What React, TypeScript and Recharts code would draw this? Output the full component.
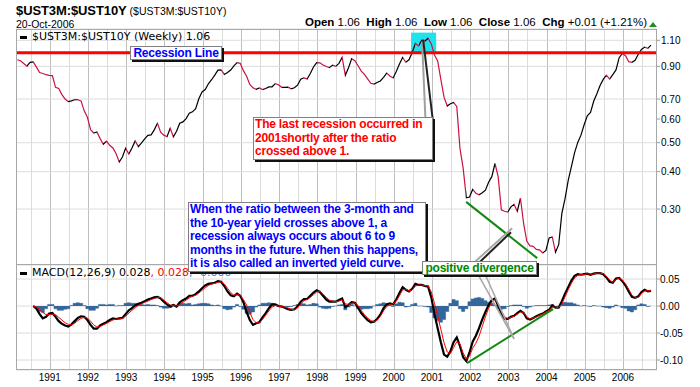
import {
  ComposedChart,
  Line,
  Area,
  XAxis,
  YAxis,
  CartesianGrid,
  ReferenceLine,
  ReferenceArea,
} from 'recharts'

// Weekly $UST3M:$UST10Y ratio, sampled monthly off the chart (Mar 1990 .. Oct 2006)
const START = 1990.15
const X_MIN = 1990.115
const X_MAX = 2006.89

const PRICE = [
  0.947, 0.94, 0.92, 0.901, 0.928, 0.931, 0.895, 0.858, 0.852, 0.844,
  0.84, 0.838, 0.766, 0.759, 0.724, 0.7, 0.686, 0.69, 0.696, 0.696,
  0.69, 0.639, 0.608, 0.553, 0.539, 0.543, 0.516, 0.494, 0.506, 0.49,
  0.48, 0.46, 0.431, 0.448, 0.479, 0.458, 0.48, 0.507, 0.485, 0.499,
  0.515, 0.529, 0.531, 0.552, 0.581, 0.542, 0.53, 0.524, 0.559, 0.523,
  0.546, 0.581, 0.587, 0.602, 0.627, 0.634, 0.65, 0.701, 0.739, 0.753,
  0.787, 0.812, 0.841, 0.874, 0.876, 0.846, 0.858, 0.875, 0.904, 0.926,
  0.921, 0.871, 0.834, 0.783, 0.763, 0.754, 0.762, 0.753, 0.759, 0.768,
  0.769, 0.788, 0.781, 0.766, 0.766, 0.767, 0.757, 0.763, 0.779, 0.815,
  0.824, 0.817, 0.852, 0.896, 0.926, 0.925, 0.909, 0.899, 0.891, 0.909,
  0.9, 0.921, 0.965, 0.84, 0.891, 0.955, 0.94, 0.904, 0.868, 0.846,
  0.817, 0.79, 0.785, 0.795, 0.804, 0.827, 0.855, 0.836, 0.823, 0.865,
  0.917, 0.964, 0.929, 0.947, 1.002, 1.073, 1.053, 1.1, 1.094, 1.118,
  1.07, 0.983, 0.938, 0.814, 0.71, 0.663, 0.675, 0.682, 0.661, 0.479,
  0.411, 0.327, 0.329, 0.349, 0.339, 0.335, 0.34, 0.347, 0.369, 0.385,
  0.426, 0.385, 0.298, 0.295, 0.293, 0.305, 0.311, 0.295, 0.326, 0.268,
  0.234, 0.226, 0.225, 0.22, 0.219, 0.214, 0.218, 0.24, 0.242, 0.215,
  0.228, 0.29, 0.325, 0.374, 0.416, 0.463, 0.501, 0.53, 0.574, 0.615,
  0.631, 0.688, 0.729, 0.777, 0.814, 0.841, 0.816, 0.845, 0.876, 0.962,
  0.994, 0.977, 0.933, 0.929, 0.943, 0.988, 1.025, 1.044, 1.034, 1.06,
]

// MACD(12,26,9) panel starts 5 months after the price series
const MACD_OFFSET = 5
const MACD = [
  0.0, -0.005, -0.015, -0.023, -0.02, -0.014, -0.013, -0.02, -0.028, -0.033,
  -0.036, -0.038, -0.034, -0.028, -0.022, -0.019, -0.02, -0.026, -0.035, -0.042,
  -0.042, -0.036, -0.033, -0.03, -0.026, -0.023, -0.024, -0.023, -0.022, -0.015,
  -0.008, -0.004, 0.001, 0.004, 0.006, 0.009, 0.012, 0.014, 0.016, 0.017,
  0.014, 0.008, 0.003, -0.001, 0.002, -0.001, 0.007, 0.011, 0.014, 0.019,
  0.019, 0.022, 0.027, 0.033, 0.038, 0.041, 0.042, 0.043, 0.046, 0.045,
  0.037, 0.027, 0.02, 0.018, 0.023, 0.019, 0.007, -0.011, -0.026, -0.035,
  -0.032, -0.03, -0.021, -0.013, -0.004, 0.003, 0.003, 0.0, -0.001, -0.003,
  -0.006, -0.007, -0.006, -0.001, 0.008, 0.013, 0.013, 0.019, 0.025, 0.029,
  0.026, 0.019, 0.012, 0.008, 0.008, 0.008, 0.011, 0.014, -0.002, 0.002,
  0.007, 0.006, -0.003, -0.013, -0.02, -0.026, -0.03, -0.029, -0.024, -0.016,
  -0.004, 0.003, 0.005, 0.003, 0.012, 0.024, 0.035, 0.03, 0.027, 0.032,
  0.041, 0.039, 0.039, 0.037, 0.036, 0.016, -0.015, -0.041, -0.067, -0.09,
  -0.094, -0.084, -0.067, -0.058, -0.074, -0.095, -0.102, -0.086, -0.066, -0.055,
  -0.041, -0.025, -0.011, 0.002, 0.011, 0.014, 0.001, -0.014, -0.024, -0.024,
  -0.02, -0.018, -0.013, -0.009, -0.013, -0.023, -0.025, -0.022, -0.019, -0.016,
  -0.014, -0.01, -0.007, 0.001, -0.003, -0.003, 0.009, 0.023, 0.035, 0.047,
  0.056, 0.059, 0.058, 0.059, 0.06, 0.058, 0.06, 0.061, 0.061, 0.059,
  0.053, 0.045, 0.043, 0.051, 0.052, 0.046, 0.038, 0.027, 0.017, 0.015,
  0.018, 0.026, 0.03, 0.027, 0.028,
]
const SIGNAL = [
  0.0, -0.002, -0.006, -0.012, -0.016, -0.016, -0.015, -0.016, -0.021, -0.026,
  -0.031, -0.034, -0.035, -0.032, -0.027, -0.023, -0.021, -0.022, -0.028, -0.035,
  -0.039, -0.038, -0.035, -0.032, -0.029, -0.026, -0.024, -0.024, -0.023, -0.019,
  -0.013, -0.008, -0.003, 0.001, 0.004, 0.007, 0.009, 0.012, 0.014, 0.016,
  0.015, 0.011, 0.006, 0.002, 0.001, 0.0, 0.003, 0.007, 0.011, 0.015,
  0.018, 0.02, 0.024, 0.029, 0.034, 0.038, 0.041, 0.042, 0.044, 0.045,
  0.041, 0.033, 0.025, 0.02, 0.021, 0.02, 0.012, 0.002, -0.012, -0.025,
  -0.031, -0.031, -0.025, -0.017, -0.009, -0.002, 0.001, 0.0, -0.001, -0.002,
  -0.004, -0.006, -0.007, -0.003, 0.004, 0.01, 0.012, 0.016, 0.021, 0.026,
  0.027, 0.022, 0.016, 0.011, 0.009, 0.008, 0.009, 0.012, 0.004, 0.003,
  0.005, 0.006, 0.001, -0.008, -0.016, -0.022, -0.027, -0.029, -0.026, -0.019,
  -0.009, -0.001, 0.003, 0.004, 0.009, 0.019, 0.03, 0.031, 0.028, 0.03,
  0.037, 0.039, 0.039, 0.038, 0.037, 0.026, 0.005, -0.018, -0.043, -0.068,
  -0.085, -0.088, -0.077, -0.066, -0.07, -0.087, -0.098, -0.093, -0.078, -0.069,
  -0.056, -0.038, -0.02, -0.004, 0.007, 0.012, 0.005, -0.009, -0.02, -0.023,
  -0.021, -0.019, -0.015, -0.011, -0.012, -0.02, -0.024, -0.022, -0.02, -0.017,
  -0.015, -0.011, -0.008, -0.002, -0.002, -0.003, 0.004, 0.017, 0.03, 0.042,
  0.052, 0.057, 0.058, 0.058, 0.06, 0.059, 0.059, 0.061, 0.061, 0.06,
  0.055, 0.048, 0.044, 0.049, 0.052, 0.048, 0.041, 0.031, 0.02, 0.016,
  0.016, 0.023, 0.028, 0.028, 0.028,
]
const HIST = [
  0.0, -0.004, -0.01, -0.012, -0.005, 0.003, 0.003, -0.005, -0.008, -0.008,
  -0.006, -0.005, 0.001, 0.005, 0.006, 0.005, 0.001, -0.005, -0.008, -0.008,
  -0.004, 0.003, 0.003, 0.002, 0.003, 0.003, 0.0, 0.001, 0.001, 0.005,
  0.006, 0.005, 0.005, 0.004, 0.003, 0.002, 0.003, 0.002, 0.002, 0.001,
  -0.002, -0.004, -0.004, -0.003, 0.001, -0.001, 0.005, 0.005, 0.004, 0.005,
  0.002, 0.003, 0.004, 0.005, 0.005, 0.004, 0.002, 0.001, 0.002, 0.0,
  -0.005, -0.007, -0.006, -0.002, 0.003, -0.001, -0.006, -0.014, -0.015, -0.011,
  -0.002, 0.002, 0.005, 0.005, 0.006, 0.005, 0.002, 0.0, 0.0, -0.001,
  -0.002, -0.001, 0.001, 0.003, 0.005, 0.004, 0.002, 0.003, 0.005, 0.004,
  -0.002, -0.004, -0.005, -0.004, -0.001, 0.0, 0.002, 0.003, -0.007, -0.002,
  0.003, 0.0, -0.005, -0.006, -0.005, -0.005, -0.004, 0.0, 0.003, 0.004,
  0.006, 0.005, 0.002, -0.001, 0.004, 0.007, 0.006, -0.002, -0.001, 0.003,
  0.005, 0.0, 0.0, -0.001, -0.002, -0.012, -0.022, -0.027, -0.03, -0.025,
  -0.01, 0.005, 0.012, 0.01, -0.005, -0.01, -0.005, 0.008, 0.013, 0.015,
  0.016, 0.014, 0.01, 0.007, 0.005, 0.002, -0.005, -0.006, -0.005, -0.001,
  0.001, 0.002, 0.002, 0.002, -0.001, -0.004, -0.002, 0.0, 0.001, 0.001,
  0.001, 0.001, 0.002, 0.003, -0.001, 0.0, 0.006, 0.007, 0.006, 0.006,
  0.004, 0.002, 0.0, 0.001, 0.0, -0.001, 0.001, 0.0, 0.0, -0.002,
  -0.003, -0.004, -0.002, 0.002, 0.0, -0.003, -0.004, -0.009, -0.011, -0.007,
  0.002, 0.004, 0.003, -0.001, 0.0,
]

const YEARS = [1991, 1992, 1993, 1994, 1995, 1996, 1997, 1998, 1999, 2000, 2001, 2002, 2003, 2004, 2005, 2006]
const HALF_YEARS = [
  1990.5, 1991.5, 1992.5, 1993.5, 1994.5, 1995.5, 1996.5, 1997.5,
  1998.5, 1999.5, 2000.5, 2001.5, 2002.5, 2003.5, 2004.5, 2005.5, 2006.5,
]
const PRICE_TICKS = [0.3, 0.4, 0.5, 0.6, 0.7, 0.8, 0.9, 1.0, 1.1]
const MACD_TICKS = [-0.1, -0.05, 0, 0.05]
const PRICE_DOMAIN = [0.195, 1.2]
const MACD_DOMAIN = [-0.1185, 0.076]

// annotation anchors, in data coordinates (year, value)
const HIGHLIGHT = { x1: 2000.455, x2: 2001.11, y1: 0.992, y2: 1.167 }
const PRICE_TREND = [{ x: 2001.895, y: 0.317 }, { x: 2003.754, y: 0.2056 }]
const MACD_TREND = [{ x: 2001.92, y: -0.1056 }, { x: 2004.17, y: -0.0056 }]

// plot box shared by both panels (chart margins below produce the same box)
const PLOT_LEFT = 16
const PLOT_WIDTH = 641

const RED = '#cc1040'
const GRID_LIGHT = '#dcdcdc'
const GRID_DARK = '#bebebe'
const FONT = '"Liberation Sans", Arial, sans-serif'
const VERDANA = '"DejaVu Sans", Verdana, sans-serif'

const priceRows = PRICE.map((v, i) => ({ t: START + i / 12, v }))
const macdRows = MACD.map((m, i) => ({
  t: START + (i + MACD_OFFSET) / 12,
  macd: m,
  signal: SIGNAL[i],
  hist: HIST[i],
}))

// close line is black on up moves and red on down moves
function priceStops() {
  const t0 = priceRows[0].t
  const span = priceRows[priceRows.length - 1].t - t0
  const stops: { offset: number; color: string }[] = []
  for (let i = 0; i < priceRows.length - 1; i++) {
    const color = PRICE[i + 1] >= PRICE[i] ? '#000000' : RED
    stops.push({ offset: (priceRows[i].t - t0) / span, color })
    stops.push({ offset: (priceRows[i + 1].t - t0) / span, color })
  }
  return stops
}

// vertical grid behind the charts; same linear mapping as the fixed x domain
function VerticalGrid({ top, height }: { top: number; height: number }) {
  const xOf = (v: number) => Math.round(PLOT_LEFT + ((v - X_MIN) / (X_MAX - X_MIN)) * PLOT_WIDTH)
  const line = (v: number, color: string) => (
    <div
      key={v}
      style={{ position: 'absolute', left: xOf(v), top, width: 1, height, background: color }}
    />
  )
  return (
    <>
      {HALF_YEARS.map((v) => line(v, GRID_LIGHT))}
      {YEARS.map((v) => line(v, GRID_DARK))}
    </>
  )
}

const boxBase: React.CSSProperties = {
  position: 'absolute',
  background: '#fff',
  border: '1px solid #808080',
  boxShadow: '2px 2px 0 #111',
  boxSizing: 'border-box',
  fontFamily: FONT,
  fontWeight: 'bold',
  fontSize: 12,
  letterSpacing: -0.2,
  whiteSpace: 'nowrap',
}

export default function App() {
  const stops = priceStops()
  return (
    <div
      style={{
        position: 'relative',
        width: 700,
        height: 387,
        background: '#fff',
        fontFamily: FONT,
        overflow: 'hidden',
      }}
    >
      <style>{'body{margin:0}'}</style>

      <VerticalGrid top={29} height={236} />
      <VerticalGrid top={265} height={105} />

      {/* header */}
      <div style={{ position: 'absolute', left: 16, top: 3, lineHeight: '14px', whiteSpace: 'nowrap' }}>
        <span style={{ fontSize: 13, fontWeight: 'bold', letterSpacing: -0.1 }}>$UST3M:$UST10Y</span>
        <span style={{ fontSize: 10.5, marginLeft: 3 }}>($UST3M:$UST10Y)</span>
      </div>
      <div style={{ position: 'absolute', left: 16, top: 18, fontSize: 10.5, lineHeight: '12px' }}>20-Oct-2006</div>
      <div
        style={{
          position: 'absolute',
          right: 53,
          top: 16,
          fontSize: 11.5,
          lineHeight: '13px',
          whiteSpace: 'nowrap',
        }}
      >
        <b>Open</b> 1.06&nbsp; <b>High</b> 1.06&nbsp; <b>Low</b> 1.06&nbsp; <b>Close</b> 1.06&nbsp;{' '}
        <b>Chg</b> +0.01 (+1.21%)
      </div>
      <div
        style={{
          position: 'absolute',
          left: 649,
          top: 22,
          width: 0,
          height: 0,
          borderLeft: '4px solid transparent',
          borderRight: '4px solid transparent',
          borderBottom: '5px solid #228b22',
        }}
      />

      {/* price panel */}
      <div style={{ position: 'absolute', left: 0, top: 0 }}>
        <ComposedChart width={700} height={265} data={priceRows} margin={{ top: 29, right: 3, bottom: 0, left: 16 }}>
          <defs>
            <linearGradient id="priceStroke" x1="0" y1="0" x2="1" y2="0">
              {stops.map((s, i) => (
                <stop key={i} offset={s.offset} stopColor={s.color} />
              ))}
            </linearGradient>
          </defs>
          <CartesianGrid vertical={false} stroke={GRID_LIGHT} />
          <XAxis dataKey="t" type="number" domain={[X_MIN, X_MAX]} allowDataOverflow hide />
          <YAxis
            orientation="right"
            width={40}
            scale="log"
            domain={PRICE_DOMAIN}
            allowDataOverflow
            ticks={PRICE_TICKS}
            tickFormatter={(v) => Number(v).toFixed(2)}
            tick={{ fontSize: 10, fill: '#000', fontFamily: FONT }}
            tickLine={{ stroke: '#999' }}
            tickSize={3}
            tickMargin={1}
            axisLine={false}
          />
          <ReferenceArea
            x1={HIGHLIGHT.x1}
            x2={HIGHLIGHT.x2}
            y1={HIGHLIGHT.y1}
            y2={HIGHLIGHT.y2}
            fill="#1ee3ee"
            fillOpacity={1}
            stroke="none"
          />
          <Line
            dataKey="v"
            type="linear"
            stroke="url(#priceStroke)"
            strokeWidth={1.2}
            dot={false}
            isAnimationActive={false}
          />
          <ReferenceLine y={1} stroke="#ff0000" strokeWidth={3} />
          <ReferenceLine segment={PRICE_TREND} stroke="#118811" strokeWidth={2} />
          {/* callout from the red note to the highlighted crossing */}
          <ReferenceLine
            segment={[{ x: 2000.743, y: 1.089 }, { x: 2000.83, y: 0.6 }]}
            stroke="#a0a0a0"
            strokeWidth={2}
          />
          <ReferenceLine
            segment={[{ x: 2000.77, y: 1.106 }, { x: 2001.03, y: 0.585 }]}
            stroke="#222"
            strokeWidth={2}
          />
          {/* callout from "positive divergence" up to the price trend */}
          <ReferenceLine
            segment={[{ x: 2002.13, y: 0.2 }, { x: 2003.1, y: 0.259 }]}
            stroke="#a8a8a8"
            strokeWidth={2}
          />
          <ReferenceLine
            segment={[{ x: 2002.26, y: 0.2 }, { x: 2003.07, y: 0.251 }]}
            stroke="#222"
            strokeWidth={2}
          />
        </ComposedChart>
      </div>

      {/* MACD panel */}
      <div style={{ position: 'absolute', left: 0, top: 265 }}>
        <ComposedChart width={700} height={122} data={macdRows} margin={{ top: 0, right: 3, bottom: 0, left: 16 }}>
          <CartesianGrid vertical={false} stroke={GRID_LIGHT} />
          <XAxis
            dataKey="t"
            type="number"
            domain={[X_MIN, X_MAX]}
            allowDataOverflow
            ticks={YEARS}
            height={17}
            tickLine={false}
            axisLine={false}
            tickSize={2}
            tickMargin={2}
            tick={{ fontSize: 10, fill: '#000', fontFamily: FONT }}
          />
          <YAxis
            orientation="right"
            width={40}
            domain={MACD_DOMAIN}
            allowDataOverflow
            ticks={MACD_TICKS}
            tickFormatter={(v) => Number(v).toFixed(2)}
            tick={{ fontSize: 10, fill: '#000', fontFamily: FONT }}
            tickLine={{ stroke: '#999' }}
            tickSize={3}
            tickMargin={0}
            axisLine={false}
          />
          <Area
            dataKey="hist"
            type="step"
            baseValue={0}
            fill="#33669a"
            fillOpacity={1}
            stroke="#33669a"
            strokeWidth={0.5}
            isAnimationActive={false}
          />
          <Line dataKey="macd" stroke="#000" strokeWidth={2.2} dot={false} isAnimationActive={false} />
          <Line dataKey="signal" stroke="#ff0000" strokeWidth={1} dot={false} isAnimationActive={false} />
          <ReferenceLine segment={MACD_TREND} stroke="#118811" strokeWidth={2} />
          {/* callout from "positive divergence" down to the MACD trend */}
          <ReferenceLine
            segment={[{ x: 2002.18, y: 0.062 }, { x: 2003.15, y: -0.061 }]}
            stroke="#a8a8a8"
            strokeWidth={1.5}
          />
          <ReferenceLine
            segment={[{ x: 2002.37, y: 0.062 }, { x: 2003.15, y: -0.061 }]}
            stroke="#a8a8a8"
            strokeWidth={1.5}
          />
        </ComposedChart>
      </div>

      {/* panel frames */}
      <div style={{ position: 'absolute', left: 16, top: 29, width: 641, height: 236, border: '1px solid #a8a8a8', boxSizing: 'border-box', pointerEvents: 'none' }} />
      <div style={{ position: 'absolute', left: 16, top: 264, width: 641, height: 106, border: '1px solid #a8a8a8', boxSizing: 'border-box', pointerEvents: 'none' }} />

      {/* legends */}
      <div style={{ position: 'absolute', left: 20, top: 30, fontFamily: VERDANA, fontSize: 11, lineHeight: '13px', whiteSpace: 'nowrap' }}>
        <span style={{ display: 'inline-block', width: 7, height: 3, background: '#000', verticalAlign: 'middle', marginRight: 5 }} />
        $UST3M:$UST10Y (Weekly) 1.06
      </div>
      <div style={{ position: 'absolute', left: 20, top: 266, fontFamily: VERDANA, fontSize: 11, lineHeight: '13px', whiteSpace: 'nowrap' }}>
        <span style={{ display: 'inline-block', width: 7, height: 3, background: '#000', verticalAlign: 'middle', marginRight: 5 }} />
        MACD(12,26,9) 0.028<span style={{ color: '#ff0000' }}>, 0.028</span>
        <span style={{ color: '#4477cc' }}>, -0.000</span>
      </div>

      {/* notes */}
      <div style={{ ...boxBase, left: 130, top: 46, width: 92, height: 14, color: '#0000ff', lineHeight: '12px', textAlign: 'center' }}>
        Recession Line
      </div>
      <div style={{ ...boxBase, left: 253, top: 117, width: 180, height: 43, color: '#ff0000', lineHeight: '13.5px', padding: '0 1px' }}>
        The last recession occurred in
        <br />
        2001shortly after the ratio
        <br />
        crossed above 1.
      </div>
      <div style={{ ...boxBase, left: 188, top: 202, width: 238, height: 70, color: '#0000ff', lineHeight: '13.5px', padding: '0 1px' }}>
        When the ratio between the 3-month and
        <br />
        the 10-year yield crosses above 1, a
        <br />
        recession always occurs about 6 to 9
        <br />
        months in the future. When this happens,
        <br />
        it is also called an inverted yield curve.
      </div>
      <div style={{ ...boxBase, left: 422, top: 261, width: 115, height: 14, color: '#008800', lineHeight: '12px', textAlign: 'center' }}>
        positive divergence
      </div>
    </div>
  )
}
